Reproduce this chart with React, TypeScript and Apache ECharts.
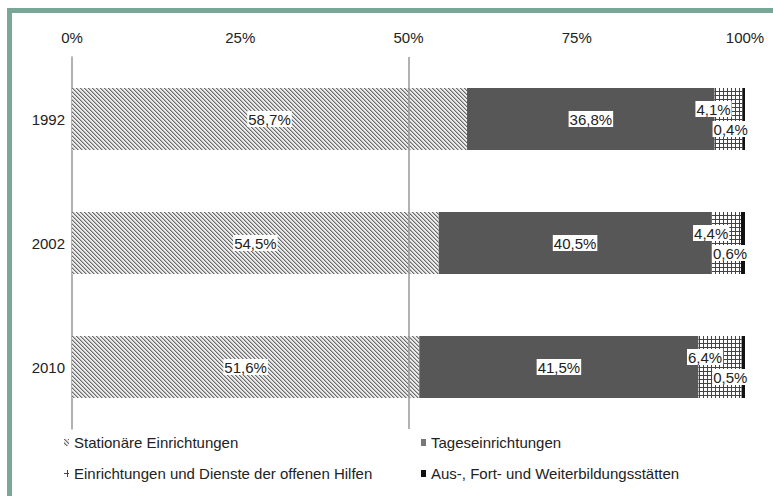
import React, { useEffect, useRef } from "react";
import * as echarts from "echarts";

const years = ["1992", "2002", "2010"];
const stationaer = [58.7, 54.5, 51.6];
const tages = [36.8, 40.5, 41.5];
const offeneHilfen = [4.1, 4.4, 6.4];
const ausbildung = [0.4, 0.6, 0.5];
const xTicks = [0, 25, 50, 75, 100];
const names = [
  "Stationäre Einrichtungen",
  "Tageseinrichtungen",
  "Einrichtungen und Dienste der offenen Hilfen",
  "Aus-, Fort- und Weiterbildungsstätten",
];

function makeHatch(): any {
  const c = document.createElement("canvas");
  c.width = 4;
  c.height = 4;
  const ctx = c.getContext("2d")!;
  ctx.fillStyle = "#ececec";
  ctx.fillRect(0, 0, 4, 4);
  for (let y = 0; y < 4; y++) {
    for (let x = 0; x < 4; x++) {
      const d = (((x - y) % 4) + 4) % 4;
      if (d === 0) {
        ctx.fillStyle = "#6a6a6a";
        ctx.fillRect(x, y, 1, 1);
      } else if (d === 1) {
        ctx.fillStyle = "#b4b4b4";
        ctx.fillRect(x, y, 1, 1);
      }
    }
  }
  return { image: c, repeat: "repeat" };
}

function makeGrid(): any {
  const c = document.createElement("canvas");
  c.width = 4;
  c.height = 4;
  const ctx = c.getContext("2d")!;
  ctx.fillStyle = "#ffffff";
  ctx.fillRect(0, 0, 4, 4);
  ctx.fillStyle = "#444444";
  ctx.fillRect(3, 0, 1, 4);
  ctx.fillRect(0, 3, 4, 1);
  return { image: c, repeat: "repeat" };
}

const fmt = (p: any) => (p.value as number).toFixed(1).replace(".", ",") + "%";

const FONT = "Liberation Sans, Arial, sans-serif";
const TXT = "#222";
const FS = 15;

export default function App() {
  const ref = useRef<HTMLDivElement>(null);
  useEffect(() => {
    if (!ref.current) return;
    const chart = echarts.init(ref.current, undefined, { renderer: "svg" });
    const hatch = makeHatch();
    const grid = makeGrid();
    const labelBox = {
      show: true,
      formatter: fmt,
      color: TXT,
      fontSize: FS,
      fontFamily: FONT,
      backgroundColor: "#ffffff",
      padding: [1, 1, 0, 1],
    };
    const legendBase = {
      orient: "horizontal",
      itemWidth: 5,
      itemHeight: 7,
      icon: "rect",
      itemGap: 4,
      textStyle: { color: TXT, fontSize: FS, fontFamily: FONT },
      selectedMode: false,
    };
    chart.setOption({
      animation: false,
      backgroundColor: "#ffffff",
      textStyle: { fontFamily: FONT },
      graphic: [
        {
          type: "rect",
          shape: { x: 9.5, y: 10.5, width: 900, height: 700 },
          style: { fill: "none", stroke: "#79a696", lineWidth: 5 },
          silent: true,
        },
      ],
      grid: { left: 72, right: 28, top: 57, bottom: 67 },
      xAxis: {
        type: "value",
        position: "top",
        min: xTicks[0],
        max: xTicks[xTicks.length - 1],
        interval: xTicks[1] - xTicks[0],
        axisLabel: { formatter: "{value}%", color: TXT, fontSize: FS, fontFamily: FONT, margin: 12 },
        axisLine: { show: false },
        axisTick: { show: false },
        splitLine: { show: false },
      },
      yAxis: {
        type: "category",
        data: years,
        inverse: true,
        axisLine: { show: true, lineStyle: { color: "#999", width: 1.5 } },
        axisTick: { show: false },
        axisLabel: { color: TXT, fontSize: FS, fontFamily: FONT, margin: 7 },
      },
      legend: [
        { ...legendBase, left: 59, top: 430, data: [names[0]] },
        { ...legendBase, left: 416, top: 430, data: [{ name: names[1], itemStyle: { color: "#777" } }] },
        { ...legendBase, left: 59, top: 461, data: [names[2]] },
        { ...legendBase, left: 416, top: 461, data: [names[3]] },
      ],
      series: [
        {
          type: "bar",
          name: "ref50",
          data: [],
          z: 1,
          markLine: {
            silent: true,
            symbol: "none",
            label: { show: false },
            lineStyle: { color: "#999", type: "solid", width: 1.5 },
            data: [{ xAxis: 50 }],
          },
        },
        {
          type: "bar",
          name: names[0],
          stack: "s",
          data: stationaer,
          barWidth: "50%",
          z: 3,
          itemStyle: { color: hatch },
          label: { ...labelBox, position: "inside" },
        },
        {
          type: "bar",
          name: names[1],
          stack: "s",
          data: tages,
          z: 3,
          itemStyle: { color: "#575757" },
          label: { ...labelBox, position: "inside" },
        },
        {
          type: "bar",
          name: names[2],
          stack: "s",
          data: offeneHilfen,
          z: 3,
          itemStyle: { color: grid },
          label: { ...labelBox, position: "inside", offset: [-15, -10] },
        },
        {
          type: "bar",
          name: names[3],
          stack: "s",
          data: ausbildung,
          z: 3,
          itemStyle: { color: "#111" },
          label: { ...labelBox, position: "inside", offset: [-13, 10] },
        },
      ],
    });
    return () => chart.dispose();
  }, []);
  return (
    <div
      ref={ref}
      style={{ position: "fixed", left: 0, top: 0, width: 773, height: 496, background: "#fff" }}
    />
  );
}
